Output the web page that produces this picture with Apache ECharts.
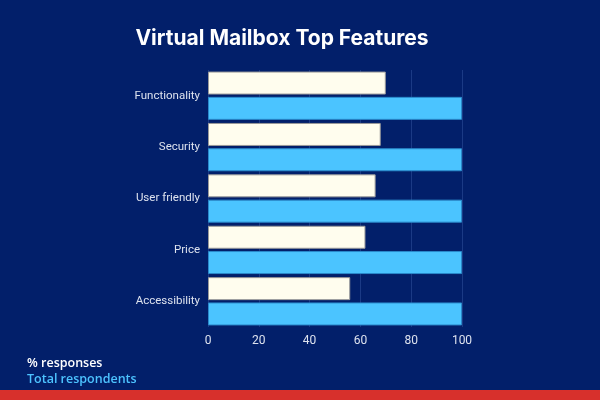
<!DOCTYPE html>
<html><head><meta charset="utf-8">
<script src="https://cdn.jsdelivr.net/npm/echarts@6/dist/echarts.min.js"></script>
<style>html,body{margin:0;padding:0;background:#021F6A;}#c{width:600px;height:400px;}</style>
</head><body><div id="c"></div>
<script>
const categories = ["Functionality", "Security", "User friendly", "Price", "Accessibility"];
const responses = [70, 68, 66, 62, 56];
const totalRespondents = [100, 100, 100, 100, 100];
const xTicks = [0, 20, 40, 60, 80, 100];

const chart = echarts.init(document.getElementById('c'));
chart.setOption({
  backgroundColor: '#021F6A',
  animation: false,
  title: {
    text: 'Virtual Mailbox Top Features',
    left: 277, top: 23, textAlign: 'center',
    textStyle: { color: '#FFFFFF', fontSize: 21, fontWeight: 'bold', fontFamily: 'Inter' }
  },
  legend: {
    orient: 'vertical', left: 17, top: 352, itemGap: 3, icon: 'none', itemWidth: 0, itemHeight: 0,
    data: [
      { name: '% responses', textStyle: { color: '#FFFFFF', fontSize: 12.5, fontWeight: 600, fontFamily: 'Open Sans' } },
      { name: 'Total respondents', textStyle: { color: '#4DC3FF', fontSize: 12.5, fontWeight: 600, fontFamily: 'Open Sans' } }
    ],
    selectedMode: false
  },
  grid: { left: 208, right: 138, top: 70, bottom: 73, containLabel: false },
  xAxis: {
    type: 'value', min: xTicks[0], max: xTicks[xTicks.length - 1], interval: 20,
    axisLine: { show: false }, axisTick: { show: false },
    axisLabel: { color: '#DDE2EE', fontSize: 12, fontFamily: 'Roboto', margin: 8 },
    splitLine: { show: true, lineStyle: { color: '#1B3A85', width: 1 } }
  },
  yAxis: {
    type: 'category', data: categories, inverse: true,
    axisLine: { show: false }, axisTick: { show: false },
    axisLabel: { color: '#DDE2EE', fontSize: 11.5, fontFamily: 'Roboto', margin: 8 }
  },
  series: [
    {
      name: '% responses', type: 'bar', data: responses, barWidth: 23, barGap: '10%',
      itemStyle: { color: '#FFFDEE', borderColor: '#9A9A9A', borderWidth: 1 }
    },
    {
      name: 'Total respondents', type: 'bar', data: totalRespondents, barWidth: 23,
      itemStyle: { color: '#4BC4FF', borderColor: '#2A8ACB', borderWidth: 1 }
    }
  ],
  graphic: [
    { type: 'rect', left: 0, top: 390, shape: { width: 600, height: 10 }, style: { fill: '#D7302C' } }
  ]
});
</script></body></html>
